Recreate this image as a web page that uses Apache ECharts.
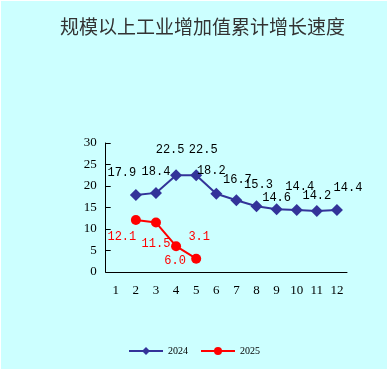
<!DOCTYPE html>
<html><head><meta charset="utf-8">
<script src="https://cdn.jsdelivr.net/npm/echarts@6/dist/echarts.min.js"></script>
<style>html,body{margin:0;padding:0;background:#ffffff;}#c{position:absolute;left:1px;top:1px;width:386px;height:368px;}</style>
</head><body><div id="c"></div>
<script>
const title = '规模以上工业增加值累计增长速度';
const months = ['1','2','3','4','5','6','7','8','9','10','11','12'];
const series2024 = [null, 17.9, 18.4, 22.5, 22.5, 18.2, 16.7, 15.3, 14.6, 14.4, 14.2, 14.4];
const series2025 = [null, 12.1, 11.5, 6.0, 3.1, null, null, null, null, null, null, null];
const yTicks = [0, 5, 10, 15, 20, 25, 30];

// label placement offsets (style only)
const off2024 = [null, [-14,-22], [0,-21], [-6,-25], [7,-25], [-5,-23], [1,-20], [2,-21], [0,-11], [3,-23], [0,-15], [11,-22]];
const off2025 = [null, [-14,17], [0,21], [-1,15], [3,-22]];

function build(vals, offs) {
  return vals.map((v, i) => {
    if (v == null) return null;
    const o = offs[i] || [0, -20];
    return { value: v, label: { offset: o } };
  });
}

const labelFont = { fontFamily: 'Liberation Mono', fontSize: 12 };
const chart = echarts.init(document.getElementById('c'), null, { renderer: 'canvas' });
chart.setOption({
  backgroundColor: '#ccffff',
  animation: false,
  title: {
    text: title, left: 54, top: 11,
    textStyle: { fontFamily: 'Noto Sans CJK SC', fontSize: 19, fontWeight: 'normal', color: '#333' }
  },
  legend: {
    bottom: 8, left: 'center', itemWidth: 34, itemHeight: 10, itemGap: 12,
    textStyle: { fontFamily: 'Liberation Serif', fontSize: 10, color: '#000' },
    data: ['2024', '2025']
  },
  grid: { left: 104.7, right: 40, top: 142, bottom: 97 },
  xAxis: {
    type: 'category', data: months, boundaryGap: true,
    axisLine: { lineStyle: { color: '#000', width: 1 } },
    axisTick: { inside: true, length: 5, lineStyle: { color: '#000' } },
    axisLabel: { color: '#000', fontFamily: 'Liberation Serif', fontSize: 13, margin: 12 }
  },
  yAxis: {
    type: 'value', min: 0, max: 30, interval: 5,
    axisLine: { show: true, lineStyle: { color: '#000', width: 1 } },
    axisTick: { show: true, inside: true, length: 5, lineStyle: { color: '#000' } },
    splitLine: { show: false },
    axisLabel: { color: '#000', fontFamily: 'Liberation Serif', fontSize: 13, margin: 9,
      formatter: v => yTicks.includes(v) ? String(v) : '' }
  },
  series: [
    {
      name: '2024', type: 'line', data: build(series2024, off2024),
      symbol: 'diamond', symbolSize: 12, connectNulls: false,
      itemStyle: { color: '#333399' }, lineStyle: { color: '#333399', width: 2 },
      label: { show: true, position: 'inside', color: '#000', ...labelFont, formatter: p => p.value.toFixed(1) }
    },
    {
      name: '2025', type: 'line', data: build(series2025, off2025),
      symbol: 'circle', symbolSize: 10,
      itemStyle: { color: '#ff0000' }, lineStyle: { color: '#ff0000', width: 2 },
      label: { show: true, position: 'inside', color: '#ff0000', ...labelFont, formatter: p => p.value.toFixed(1) }
    }
  ]
});
</script></body></html>
